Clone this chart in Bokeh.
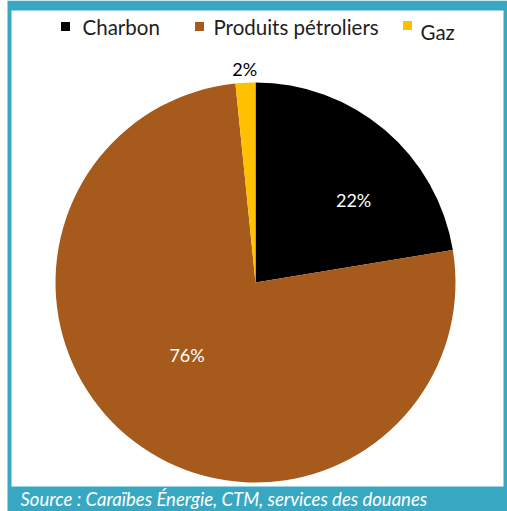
import numpy as np
from bokeh.plotting import figure
from bokeh.models import Range1d, ColumnDataSource
from bokeh.core.properties import value
from bokeh.embed import file_html
from bokeh.resources import INLINE

categories = ["Charbon", "Produits pétroliers", "Gaz"]
shares = [22.4, 76.0, 1.6]
labels = ["22%", "76%", "2%"]
colors = ["#000000", "#A65A1B", "#FFC000"]
label_colors = ["#FFFFFF", "#FFFFFF", "#000000"]
source_text = "Source : Caraïbes Énergie, CTM, services des douanes"

W, H = 507, 511
TEAL = "#38A8C2"

def Y(y):
    return H - np.asarray(y, dtype=float)

p = figure(width=W, height=H, output_backend="svg", toolbar_location=None,
           x_range=Range1d(0, W), y_range=Range1d(0, H),
           min_border=0, outline_line_color=None)
p.axis.visible = False
p.grid.visible = False
p.background_fill_color = "white"
p.border_fill_color = "white"

# frame
p.quad(left=7, right=507, top=Y(0), bottom=Y(511), fill_color=TEAL, line_color=None)
p.quad(left=11, right=503, top=Y(10), bottom=Y(486), fill_color="white", line_color=None)

# pie, clockwise from 12 o'clock
cx, cy, r = 255, float(Y(282)), 200
fr = np.array(shares) / sum(shares)
ends = np.cumsum(fr) * 2 * np.pi
starts = np.concatenate([[0], ends[:-1]])
src = ColumnDataSource(dict(start=np.pi / 2 - starts, end=np.pi / 2 - ends, color=colors))
p.wedge(x=cx, y=cy, radius=r, start_angle="start", end_angle="end",
        fill_color="color", line_color=None, source=src, direction="clock")

# labels
mids = np.pi / 2 - (starts + ends) / 2
lr = np.array([0.64, 0.50, 1.07])
offs = np.array([-0.17, -0.10, 0.0])
lx = cx + r * lr * np.cos(mids + offs)
ly = cy + r * lr * np.sin(mids + offs)
p.text(x=lx, y=ly, text=labels, text_color=label_colors, text_align="center",
       text_baseline="middle", text_font=value("Lato"), text_font_size="18px")

# legend
mx = [65, 199, 407]
tx = [82, 213, 420]
ty = [26, 26, 31]
p.rect(x=mx, y=Y([26, 26, 25]), width=9, height=9, fill_color=colors, line_color=None)
p.text(x=tx, y=Y(ty), text=categories, text_color="#1E1E1E", text_align="left",
       text_baseline="middle", text_font=value("Lato"), text_font_size="20.5px")

# source
p.text(x=[20], y=Y([498]), text=[source_text], text_color="white", text_align="left",
       text_baseline="middle", text_font=value("Lato"), text_font_style="italic",
       text_font_size="18.5px")

open("out.html", "w").write(file_html(p, INLINE))
